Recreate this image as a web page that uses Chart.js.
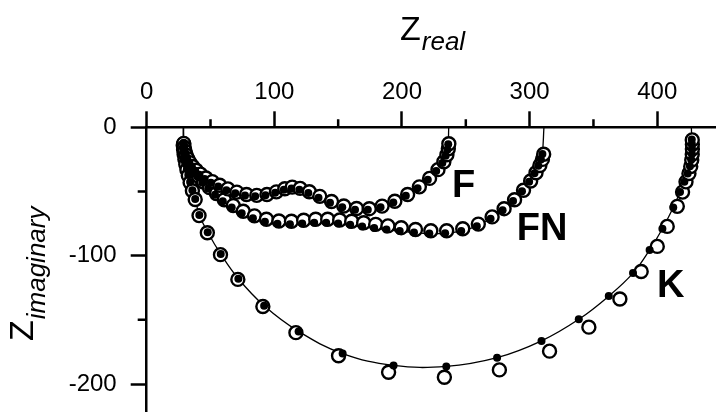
<!DOCTYPE html>
<html>
<head>
<meta charset="utf-8">
<script src="https://cdn.jsdelivr.net/npm/chart.js@4.4.1/dist/chart.umd.min.js"></script>
<style>
  html, body { margin: 0; padding: 0; background: #fff; }
  #wrap { position: relative; width: 716px; height: 412px; }
</style>
</head>
<body>
<div id="wrap"><canvas id="nyquist" width="716" height="412"></canvas></div>
<script>
// tick values
const xTicks = [0, 100, 200, 300, 400];
const xMinor = [50, 150, 250, 350];
const yTicks = [0, -100, -200];
const yMinor = [-50, -150];

// where the fitted curves meet the real axis
const fitStartRe = 28.8;
const fEndRe  = 236.6;
const fnEndRe = 311.2;
const kEndRe  = 426.7;

// F: measured (open circles) and fitted (dots)
const fExpRe = [29.0, 29.3, 29.9, 30.8, 32.1, 33.8, 36.0, 38.8, 42.2, 46.4, 51.4, 57.2, 63.6, 70.6, 78.2, 86.2, 94.2, 101.6, 108.2, 114.0, 120.2, 127.4, 135.6, 144.8, 154.4, 164.4, 174.4, 184.4, 194.4, 204.4, 213.6, 221.6, 228.2, 232.8, 235.2, 236.3, 236.7];
const fExpIm = [-12.5, -15.5, -18.5, -21.5, -24.5, -27.5, -30.5, -33.5, -36.5, -39.5, -42.3, -45.2, -48.0, -50.5, -52.3, -53.0, -52.3, -50.3, -47.9, -46.6, -47.6, -50.2, -53.8, -57.8, -61.3, -63.3, -63.4, -61.4, -57.6, -52.4, -46.4, -39.8, -33.0, -26.8, -21.4, -16.8, -12.8];
const fFitRe = [29.0, 29.2, 29.7, 30.5, 31.7, 33.3, 35.4, 38.0, 41.3, 45.4, 50.3, 56.0, 62.4, 69.4, 77.0, 85.0, 93.0, 100.6, 107.4, 113.4, 119.6, 126.6, 134.6, 143.6, 153.2, 163.2, 173.2, 183.2, 193.2, 203.0, 212.2, 220.2, 226.8, 231.6, 234.2, 235.6, 236.2];
const fFitIm = [-12.0, -15.0, -18.0, -21.0, -24.2, -27.4, -30.6, -33.8, -37.0, -40.2, -43.2, -46.2, -49.0, -51.4, -53.2, -53.8, -53.0, -51.0, -48.7, -47.6, -48.6, -51.2, -54.8, -58.8, -62.2, -64.2, -64.3, -62.3, -58.6, -53.4, -47.4, -40.8, -34.0, -27.8, -22.2, -17.4, -13.2];

// FN
const fnExpRe = [29.0, 29.4, 30.2, 31.4, 33.0, 35.0, 37.6, 40.8, 44.6, 49.2, 54.6, 60.8, 67.8, 75.6, 84.4, 93.8, 103.6, 113.4, 123.0, 132.4, 141.8, 151.2, 160.6, 170.0, 179.4, 189.0, 199.4, 210.6, 222.6, 235.0, 247.6, 259.8, 270.6, 280.0, 288.2, 295.2, 300.8, 305.0, 308.0, 310.0, 311.0];
const fnExpIm = [-13.0, -16.5, -20.0, -23.5, -27.0, -30.6, -34.4, -38.4, -42.6, -47.0, -51.6, -56.4, -61.0, -65.4, -69.0, -71.6, -73.0, -73.2, -72.4, -71.6, -71.6, -72.2, -73.2, -74.4, -75.6, -76.8, -78.2, -79.6, -80.6, -80.6, -79.0, -75.4, -69.8, -63.4, -56.4, -49.0, -41.8, -35.4, -29.8, -25.0, -21.0];
const fnFitRe = [28.9, 29.2, 29.9, 31.0, 32.5, 34.4, 36.9, 40.0, 43.7, 48.2, 53.5, 59.6, 66.6, 74.4, 83.2, 92.6, 102.4, 112.2, 121.8, 131.2, 140.6, 150.0, 159.4, 168.8, 178.2, 187.8, 198.2, 209.4, 221.4, 233.8, 246.4, 258.6, 269.4, 278.8, 287.0, 294.0, 299.6, 303.8, 306.8, 308.8, 310.0];
const fnFitIm = [-12.5, -16.0, -19.6, -23.2, -26.8, -30.6, -34.6, -38.8, -43.2, -47.8, -52.6, -57.6, -62.4, -67.0, -70.8, -73.6, -75.2, -75.6, -75.0, -74.4, -74.4, -75.0, -76.0, -77.2, -78.4, -79.6, -80.8, -82.0, -82.8, -82.6, -80.8, -77.0, -71.2, -64.6, -57.4, -49.8, -42.4, -35.8, -30.0, -25.0, -20.8];

// K
const kExpRe = [28.6, 28.9, 29.3, 29.9, 30.6, 31.5, 32.6, 34.0, 35.8, 38.0, 41.0, 47.5, 57.8, 71.4, 91.0, 116.9, 150.3, 189.5, 233.2, 276.3, 315.6, 346.4, 370.7, 387.4, 400.0, 407.8, 415.7, 419.8, 422.5, 424.8, 426.2, 427.0, 427.4, 427.5, 427.5, 427.4];
const kExpIm = [-14.0, -17.5, -21.0, -24.8, -28.8, -33.0, -37.6, -43.0, -49.4, -56.2, -68.8, -82.2, -99.2, -118.5, -139.6, -160.0, -178.0, -190.8, -194.7, -189.0, -174.4, -155.7, -133.8, -112.3, -92.8, -77.2, -61.6, -50.5, -42.5, -36.0, -30.5, -25.5, -21.0, -17.0, -13.3, -9.8];
const kFitRe = [28.6, 28.9, 29.3, 29.9, 30.6, 31.5, 32.6, 34.0, 35.8, 38.0, 41.2, 47.8, 58.0, 71.8, 92.0, 119.0, 153.5, 193.4, 234.7, 274.5, 309.3, 338.5, 362.0, 381.0, 394.0, 404.0, 412.5, 417.8, 421.2, 423.8, 425.6, 426.6, 427.1, 427.2, 427.1, 427.0];
const kFitIm = [-13.6, -17.1, -20.6, -24.4, -28.4, -32.6, -37.2, -42.6, -49.0, -55.8, -68.4, -81.8, -98.8, -118.0, -139.0, -159.0, -176.3, -185.5, -186.3, -179.5, -166.4, -149.6, -131.5, -113.6, -95.5, -79.0, -62.5, -50.5, -42.5, -36.0, -30.3, -25.3, -20.8, -16.8, -13.1, -9.6];

const seriesNames = ['F', 'FN', 'K'];

const FONT = '"Liberation Sans", Arial, sans-serif';
const pts = (re, im) => re.map((r, i) => ({ x: r, y: im[i] }));
const fitLine = (re, im, end) => [{ x: fitStartRe, y: 0 }, ...pts(re, im), { x: end, y: 0 }];

const lineStyle = { showLine: true, pointRadius: 0, borderColor: '#000', borderWidth: 1.3, tension: 0.4, fill: false, order: 3 };
const ringStyle = { pointRadius: 6.5, pointBorderWidth: 2.4, pointBorderColor: '#000', pointBackgroundColor: '#fff', order: 2 };
const dotStyle  = { pointRadius: 4, pointBorderWidth: 0, pointBackgroundColor: '#000', pointBorderColor: '#000', order: 1 };

// labels next to each curve, in data units
const curveLabels = [
    { text: seriesNames[0], x: 239.2, y: -54 },
    { text: seriesNames[1], x: 290.0, y: -88 },
    { text: seriesNames[2], x: 399.8, y: -132 }
];

const decorations = {
    id: 'decorations',
    afterDraw(chart) {
        const { ctx, chartArea: a, scales: { x, y } } = chart;
        ctx.save();
        ctx.strokeStyle = '#000';
        ctx.lineWidth = 2.5;
        ctx.beginPath();
        xMinor.forEach(v => { const px = x.getPixelForValue(v); ctx.moveTo(px, a.top); ctx.lineTo(px, a.top - 8); });
        yMinor.forEach(v => { const py = y.getPixelForValue(v); ctx.moveTo(a.left, py); ctx.lineTo(a.left - 9, py); });
        ctx.stroke();

        ctx.fillStyle = '#000';
        ctx.textBaseline = 'alphabetic';
        ctx.font = 'bold 38px ' + FONT;
        curveLabels.forEach(l => ctx.fillText(l.text, x.getPixelForValue(l.x), y.getPixelForValue(l.y)));

        // axis titles
        ctx.font = '34px ' + FONT;
        ctx.fillText('Z', 400, 40);
        const zw = ctx.measureText('Z').width;
        ctx.font = 'italic 26px ' + FONT;
        ctx.fillText('real', 400 + zw + 1, 50);

        ctx.translate(33, 341);
        ctx.rotate(-Math.PI / 2);
        ctx.font = '34px ' + FONT;
        ctx.fillText('Z', 0, 0);
        ctx.font = 'italic 26px ' + FONT;
        ctx.fillText('imaginary', zw + 1, 12);
        ctx.restore();
    }
};

// the axes sit on the canvas edge, so drop the label overhang padding
const noPad = s => { s.paddingTop = 0; s.paddingBottom = 0; s.paddingLeft = 0; s.paddingRight = 0; };

new Chart(document.getElementById('nyquist'), {
    type: 'scatter',
    data: {
        datasets: [
            { ...lineStyle, data: fitLine(fFitRe, fFitIm, fEndRe) },
            { ...lineStyle, data: fitLine(fnFitRe, fnFitIm, fnEndRe) },
            { ...lineStyle, data: fitLine(kFitRe, kFitIm, kEndRe) },
            { ...ringStyle, data: pts(fExpRe, fExpIm) },
            { ...ringStyle, data: pts(fnExpRe, fnExpIm) },
            { ...ringStyle, data: pts(kExpRe, kExpIm) },
            { ...dotStyle, data: pts(fFitRe, fFitIm) },
            { ...dotStyle, data: pts(fnFitRe, fnFitIm) },
            { ...dotStyle, data: pts(kFitRe, kFitIm) }
        ]
    },
    options: {
        responsive: false,
        animation: false,
        layout: { padding: 0, autoPadding: false },
        plugins: { legend: { display: false }, tooltip: { enabled: false } },
        scales: {
            x: {
                type: 'linear', position: 'top', min: 0, max: 446,
                afterFit: s => { s.height = 127.3; noPad(s); },
                afterBuildTicks: s => { s.ticks = xTicks.map(v => ({ value: v })); },
                ticks: { color: '#000', font: { family: FONT, size: 24 }, padding: 5, maxRotation: 0 },
                grid: { drawOnChartArea: false, drawTicks: true, tickLength: 16, tickWidth: 2.5, tickColor: '#000' },
                border: { display: true, color: '#000', width: 2.5 }
            },
            y: {
                type: 'linear', min: -221.8, max: 0,
                afterFit: s => { s.width = 146.7; noPad(s); },
                afterBuildTicks: s => { s.ticks = yTicks.map(v => ({ value: v })); },
                ticks: { color: '#000', font: { family: FONT, size: 24 }, padding: 14 },
                grid: { drawOnChartArea: false, drawTicks: true, tickLength: 16, tickWidth: 2.5, tickColor: '#000' },
                border: { display: true, color: '#000', width: 2.5 }
            }
        }
    },
    plugins: [decorations]
});
</script>
</body>
</html>
